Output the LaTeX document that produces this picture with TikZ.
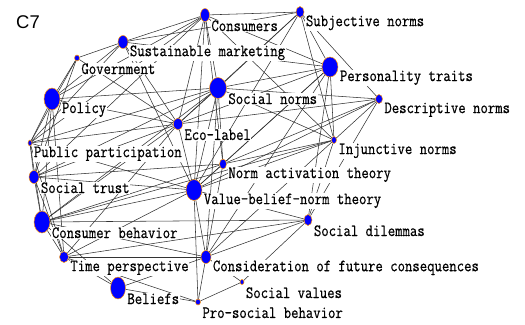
\documentclass[tikz,border=0pt]{standalone}
\usepackage{fontspec}
\newfontfamily\kwfont{Latin Modern Mono}[FakeBold=0.6]
\setsansfont{Liberation Sans}
\usetikzlibrary{positioning,shapes.geometric,backgrounds}
\tikzset{
  knot/.style 2 args={ellipse,fill=blue,draw=orange!85!yellow,line width=0.5pt,
    inner sep=0pt,minimum width=#1pt,minimum height=#2pt},
  lbl/.style={font=\kwfont\fontsize{14.4}{16}\selectfont,fill=white,inner sep=0.5pt,
    transform shape,yscale=1.2,yshift=-9pt},
  link/.style={black!80,line width=0.55pt},
}

\begin{document}
\begin{tikzpicture}[x=1bp,y=-1bp]
  \useasboundingbox (0,0) rectangle (525,324);
  \node[font=\sffamily\fontsize{18.5}{19}\selectfont] (tag) at (28,22) {C7};

  % keywords
  \node[knot={9}{13}]  (con) at (205,15) {};
  \node[knot={8}{11}]  (sub) at (300,12) {};
  \node[knot={10}{13}] (sm)  at (123,42) {};
  \node[knot={5}{6}]   (gov) at (77,58) {};
  \node[knot={16}{20}] (pt)  at (330,67) {};
  \node[knot={16}{22}] (pol) at (52,99) {};
  \node[knot={17}{21}] (sn)  at (218,88) {};
  \node[knot={7}{9}]   (dn)  at (379,99) {};
  \node[knot={9}{12}]  (eco) at (178,124) {};
  \node[knot={5}{7}]   (inj) at (334,140) {};
  \node[knot={4}{6}]   (pp)  at (30,143) {};
  \node[knot={7}{10}]  (nat) at (223,164) {};
  \node[knot={10}{13}] (st)  at (34,177) {};
  \node[knot={16}{21}] (vbn) at (194,190) {};
  \node[knot={16}{22}] (cb)  at (42,222) {};
  \node[knot={8}{11}]  (sd)  at (308,220) {};
  \node[knot={9}{11}]  (tp)  at (64,257) {};
  \node[knot={10}{13}] (cfc) at (206,257) {};
  \node[knot={15}{22}] (bel) at (118,288) {};
  \node[knot={4}{5}]   (sv)  at (242,282) {};
  \node[knot={5}{6}]   (psb) at (198,302) {};

  % co-occurrence links
  \begin{scope}[on background layer]
    \foreach \a/\b in {con/sm,sm/gov,con/sub,con/pol,con/pp,con/st,con/eco,con/sn,
        con/vbn,con/nat,con/pt,con/inj,
        sub/dn,sub/inj,sub/vbn,sub/sm,sub/sn,sub/eco,sub/pt,
        sm/pol,sm/eco,sm/pp,sm/pt,sm/vbn,
        gov/pol,gov/pp,gov/eco,gov/st,
        pol/sn,pol/pp,pol/st,pol/cb,pol/tp,pol/eco,
        sn/dn,sn/inj,sn/eco,sn/pp,sn/st,sn/vbn,sn/nat,sn/cb,sn/pt,sn/cfc,
        pt/vbn,pt/nat,pt/inj,pt/cfc,pt/sd,pt/eco,
        dn/vbn,dn/nat,dn/cfc,dn/sd,dn/eco,
        inj/vbn,inj/nat,inj/sd,inj/cb,
        eco/pp,eco/st,eco/cb,eco/vbn,eco/tp,
        pp/st,pp/cb,pp/vbn,pp/tp,
        st/cb,st/vbn,st/tp,st/nat,
        nat/vbn,nat/cb,nat/cfc,
        vbn/cfc,vbn/cb,vbn/tp,vbn/sd,vbn/psb,
        cb/tp,cb/cfc,cb/sd,cb/bel,
        tp/bel,tp/cfc,tp/sd,tp/psb,
        cfc/sd,cfc/sv,cfc/psb,cfc/bel,
        bel/psb,psb/sv,sv/sd}
      \draw[link] (\a) -- (\b);
  \end{scope}

  % keyword labels
  \node[lbl,right=1pt of con] (con-l) {Consumers};
  \node[lbl,right=1pt of sub] (sub-l) {Subjective norms};
  \node[lbl,right=1pt of sm]  (sm-l)  {Sustainable marketing};
  \node[lbl,right=1pt of gov] (gov-l) {Government};
  \node[lbl,right=1pt of pt]  (pt-l)  {Personality traits};
  \node[lbl,right=1pt of pol] (pol-l) {Policy};
  \node[lbl,right=1pt of sn]  (sn-l)  {Social norms};
  \node[lbl,right=1pt of dn]  (dn-l)  {Descriptive norms};
  \node[lbl,right=1pt of eco] (eco-l) {Eco-label};
  \node[lbl,right=1pt of inj] (inj-l) {Injunctive norms};
  \node[lbl,right=1pt of pp]  (pp-l)  {Public participation};
  \node[lbl,right=1pt of nat] (nat-l) {Norm activation theory};
  \node[lbl,right=1pt of st]  (st-l)  {Social trust};
  \node[lbl,right=1pt of vbn] (vbn-l) {Value-belief-norm theory};
  \node[lbl,right=1pt of cb]  (cb-l)  {Consumer behavior};
  \node[lbl,right=1pt of sd]  (sd-l)  {Social dilemmas};
  \node[lbl,right=1pt of tp]  (tp-l)  {Time perspective};
  \node[lbl,right=1pt of cfc] (cfc-l) {Consideration of future consequences};
  \node[lbl,right=1pt of bel] (bel-l) {Beliefs};
  \node[lbl,right=1pt of sv]  (sv-l)  {Social values};
  \node[lbl,right=1pt of psb] (psb-l) {Pro-social behavior};
\end{tikzpicture}
\end{document}
